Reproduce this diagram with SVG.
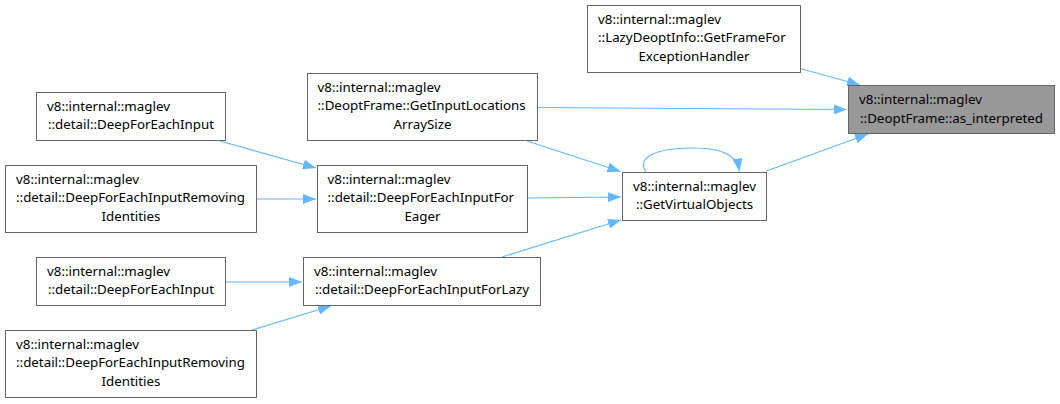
<svg xmlns="http://www.w3.org/2000/svg" width="1060" height="404" viewBox="0 0 1060 404">
<defs>
<style>
.box{fill:#ffffff;stroke:#666666;stroke-width:1}
.hl{fill:#999999;stroke:#666666;stroke-width:1}
text{font-family:"Noto Sans","Open Sans","DejaVu Sans",sans-serif;font-size:13.33px;fill:#000000}
.m{text-anchor:middle}
.edge{fill:none;stroke:#63b8ff;stroke-width:1.1;marker-end:url(#arr)}
</style>
<marker id="arr" markerUnits="userSpaceOnUse" markerWidth="13" markerHeight="10" viewBox="0 0 13 10" refX="13" refY="5" orient="auto">
<path d="M0,0 L13,5 L0,10 z" fill="#63b8ff"/>
</marker>
</defs>
<rect width="1060" height="404" fill="#ffffff"/>
<g id="edges">
<path class="edge" d="M800,68.5 L860,85"/>
<path class="edge" d="M537,107.5 L847,109.5"/>
<path class="edge" d="M766.5,171 L868,134"/>
<path class="edge" d="M527,141 L620.5,171.5"/>
<path class="edge" d="M646,172 C636,158 655,148 692,148 C725,148 737,156 739.5,171.5"/>
<path class="edge" d="M527,198 L621,197"/>
<path class="edge" d="M502,257 L621,220"/>
<path class="edge" d="M220,141 L316,168"/>
<path class="edge" d="M256,199 L316,199"/>
<path class="edge" d="M225,282 L302,282"/>
<path class="edge" d="M252,330 L331,306"/>
</g>
<g id="n0">
<rect class="hl" x="848.5" y="85.5" width="206" height="48"/>
<text x="859" y="104">v8::internal::maglev</text>
<text class="m" x="951.5" y="122.7">::DeoptFrame::as_interpreted</text>
</g>
<g id="n1">
<rect class="box" x="587.5" y="5.5" width="213" height="67"/>
<text x="598" y="23.5">v8::internal::maglev</text>
<text x="598" y="42.2">::LazyDeoptInfo::GetFrameFor</text>
<text class="m" x="694" y="61">ExceptionHandler</text>
</g>
<g id="n2">
<rect class="box" x="307.5" y="73.5" width="230" height="67"/>
<text x="317.5" y="91.5">v8::internal::maglev</text>
<text x="317.5" y="110.2">::DeoptFrame::GetInputLocations</text>
<text class="m" x="422.5" y="129">ArraySize</text>
</g>
<g id="n3">
<rect class="box" x="622.5" y="172.5" width="144" height="48"/>
<text x="633" y="190.5">v8::internal::maglev</text>
<text class="m" x="694.5" y="209.2">::GetVirtualObjects</text>
</g>
<g id="n4">
<rect class="box" x="317.5" y="165.5" width="210" height="67"/>
<text x="327.5" y="183.5">v8::internal::maglev</text>
<text x="327.5" y="202.2">::detail::DeepForEachInputFor</text>
<text class="m" x="422.5" y="221">Eager</text>
</g>
<g id="n5">
<rect class="box" x="303.5" y="257.5" width="237" height="48"/>
<text x="314" y="275.5">v8::internal::maglev</text>
<text class="m" x="422" y="294.2">::detail::DeepForEachInputForLazy</text>
</g>
<g id="n6">
<rect class="box" x="36.5" y="92.5" width="189" height="48"/>
<text x="47" y="110.5">v8::internal::maglev</text>
<text class="m" x="131" y="129.2">::detail::DeepForEachInput</text>
</g>
<g id="n7">
<rect class="box" x="5.5" y="165.5" width="251" height="67"/>
<text x="16" y="183.5">v8::internal::maglev</text>
<text x="16" y="202.2">::detail::DeepForEachInputRemoving</text>
<text class="m" x="131" y="221">Identities</text>
</g>
<g id="n8">
<rect class="box" x="36.5" y="257.5" width="189" height="48"/>
<text x="47" y="275.5">v8::internal::maglev</text>
<text class="m" x="131" y="294.2">::detail::DeepForEachInput</text>
</g>
<g id="n9">
<rect class="box" x="5.5" y="330.5" width="251" height="67"/>
<text x="16" y="348.5">v8::internal::maglev</text>
<text x="16" y="367.2">::detail::DeepForEachInputRemoving</text>
<text class="m" x="131" y="386">Identities</text>
</g>
</svg>
